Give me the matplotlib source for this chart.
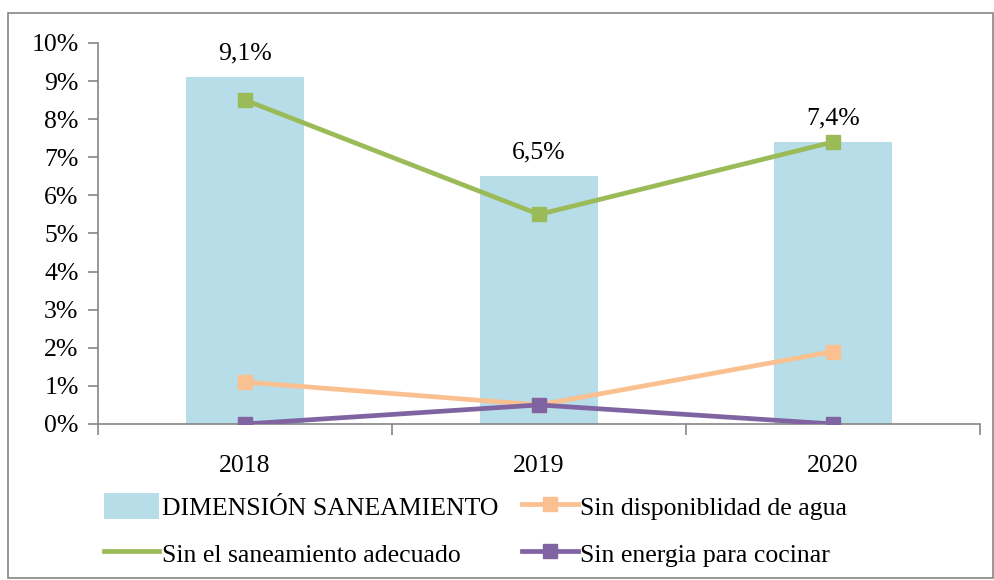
import matplotlib.pyplot as plt
from matplotlib.lines import Line2D
from matplotlib.patches import Patch, Rectangle
from matplotlib.ticker import FuncFormatter

years = ["2018", "2019", "2020"]
dimension = [9.1, 6.5, 7.4]
sin_agua = [1.1, 0.5, 1.9]
sin_saneamiento = [8.5, 5.5, 7.4]
sin_energia = [0.0, 0.5, 0.0]
bar_labels = ["9,1%", "6,5%", "7,4%"]

BAR = "#B7DDE8"
ORANGE = "#FAC090"
GREEN = "#9BBB59"
PURPLE = "#8064A2"
AXIS = "#868686"
FS = 18.5

plt.rcParams["font.family"] = ["Liberation Serif", "DejaVu Serif"]

fig = plt.figure(figsize=(9.95, 5.8), dpi=100)
ax = fig.add_axes([0.0985, 0.269, 0.8865, 0.657])

# outer frame like the Excel chart area
fig.patches.append(Rectangle((8 / 995, 2 / 580), 985 / 995, 565 / 580,
                             transform=fig.transFigure, fill=False,
                             edgecolor=AXIS, linewidth=1.2))

x = list(range(len(years)))
ax.bar(x, dimension, width=0.4, color=BAR, zorder=1)
ax.plot(x, sin_agua, color=ORANGE, lw=3.4, marker="s", ms=10, zorder=3)
ax.plot(x, sin_saneamiento, color=GREEN, lw=3.4, marker="s", ms=10, zorder=3)
ax.plot(x, sin_energia, color=PURPLE, lw=3.4, marker="s", ms=10, zorder=4)

for xi, v, lab in zip(x, dimension, bar_labels):
    ax.annotate(lab, (xi, v), xytext=(0, 9), textcoords="offset points",
                ha="center", va="bottom", fontsize=FS)

ax.set_xlim(-0.5, 2.5)
ax.set_ylim(0, 10)
ax.set_yticks(range(0, 11))
ax.yaxis.set_major_formatter(FuncFormatter(lambda v, p: f"{int(v)}%"))
ax.set_xticks(x)
ax.set_xticklabels(years)
ax.set_xticks([-0.5, 0.5, 1.5, 2.5], minor=True)
ax.tick_params(axis="x", which="major", length=0, pad=22, labelsize=FS)
ax.tick_params(axis="x", which="minor", length=8, color=AXIS, width=1.2)
ax.tick_params(axis="y", length=7, color=AXIS, width=1.2, labelsize=FS, pad=7)

for s in ["top", "right"]:
    ax.spines[s].set_visible(False)
for s in ["left", "bottom"]:
    ax.spines[s].set_color(AXIS)
    ax.spines[s].set_linewidth(1.2)

handles = [
    Patch(facecolor=BAR, edgecolor="none"),
    Line2D([], [], color=GREEN, lw=3.4),
    Line2D([], [], color=ORANGE, lw=3.4, marker="s", ms=10),
    Line2D([], [], color=PURPLE, lw=3.4, marker="s", ms=10),
]
labels = [
    "DIMENSIÓN SANEAMIENTO",
    "Sin el saneamiento adecuado",
    "Sin disponiblidad de agua",
    "Sin energia para cocinar",
]
fig.legend(handles, labels, ncol=2, loc="upper left",
           bbox_to_anchor=(91 / 995, 1 - 480 / 580), frameon=False,
           fontsize=FS, handlelength=2.15, handleheight=1.2, handletextpad=0.1,
           columnspacing=0.95, labelspacing=0.8, borderpad=0)

plt.savefig("out.png", dpi=100)
